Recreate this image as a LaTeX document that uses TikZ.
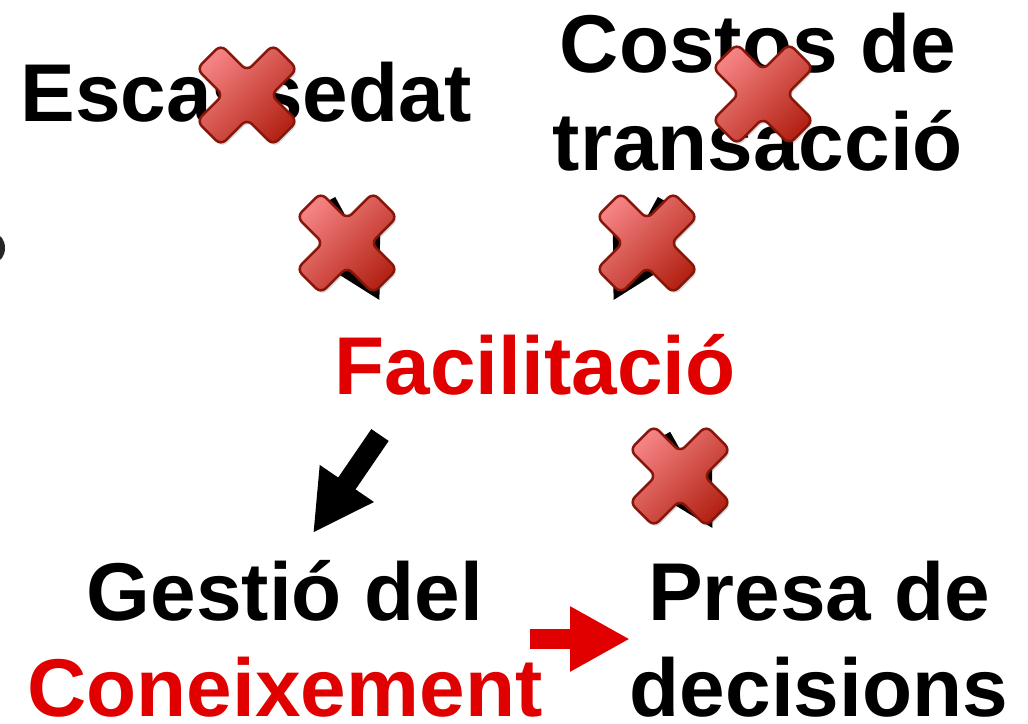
\documentclass[tikz,border=0pt]{standalone}
\usepackage{fontspec}
\setmainfont{Liberation Sans}
\usetikzlibrary{arrows.meta}
\definecolor{txtred}{RGB}{224,0,0}
\definecolor{xlight}{RGB}{244,130,130}
\definecolor{xdark}{RGB}{180,36,22}
\definecolor{xedge}{RGB}{134,22,10}
\tikzset{
  lbl/.style={font=\fontsize{82}{98}\selectfont\bfseries, inner sep=0pt, anchor=base},
  redlbl/.style={lbl, text=txtred},
  blockarrow/.style={line width=21pt, -{Triangle[length=60pt,width=61pt]}},
  redarrow/.style={txtred, line width=20pt, -{Triangle[length=60pt,width=61pt]}},
  xmark/.pic={
    \path[rounded corners=7pt, draw=xedge, line width=2.5pt,
          top color=xlight, bottom color=xdark, shading angle=45,
          preaction={fill=black, opacity=.15, transform canvas={shift={(1.5pt,-2.5pt)}}}]
      (-38.18,38.18) -- (-26.16,50.20) -- (0,24.04) -- (26.16,50.20) -- (50.20,26.16)
      -- (24.04,0) -- (50.20,-26.16) -- (26.16,-50.20) -- (0,-24.04) -- (-26.16,-50.20)
      -- (-50.20,-26.16) -- (-24.04,0) -- (-50.20,26.16) -- cycle;
  }
}
\begin{document}
\begin{tikzpicture}[x=1pt,y=-1pt]
\useasboundingbox (0,0) rectangle (1028,723);
\fill[white] (0,0) rectangle (1028,723);
% left-edge smudge
\fill[black, opacity=.85] (-5,248) ellipse (10pt and 14pt);
% texts
\node[lbl] (esc) at (246,121) {Escassedat};
\node[lbl] (cos1) at (758,72) {Costos de};
\node[lbl] (cos2) at (758,170) {transacció};
\node[redlbl] (fac) at (535,394) {Facilitació};
\node[lbl] (ges) at (285,620) {Gestió del};
\node[redlbl] (con) at (285,716) {Coneixement};
\node[lbl] (pre) at (819,620) {Presa de};
\node[lbl] (dec) at (819,716) {decisions};
% arrow end points
\coordinate (a1s) at (326,202); \coordinate (a1e) at (380,301);
\coordinate (a2s) at (667,202); \coordinate (a2e) at (613,301);
\coordinate (a3s) at (661,437); \coordinate (a3e) at (713,529);
\coordinate (a4s) at (380,435); \coordinate (a4e) at (313,533);
\coordinate (a5s) at (530,639); \coordinate (a5e) at (630,639);
\draw[blockarrow] (a1s) -- (a1e);
\draw[blockarrow] (a2s) -- (a2e);
\draw[blockarrow] (a3s) -- (a3e);
\draw[blockarrow] (a4s) -- (a4e);
\draw[redarrow] (a5s) -- (a5e);
% cross marks
\pic at (247,95) {xmark};
\pic at (763,94) {xmark};
\pic at (347,243) {xmark};
\pic at (647,243) {xmark};
\pic at (680,476) {xmark};
\end{tikzpicture}
\end{document}
